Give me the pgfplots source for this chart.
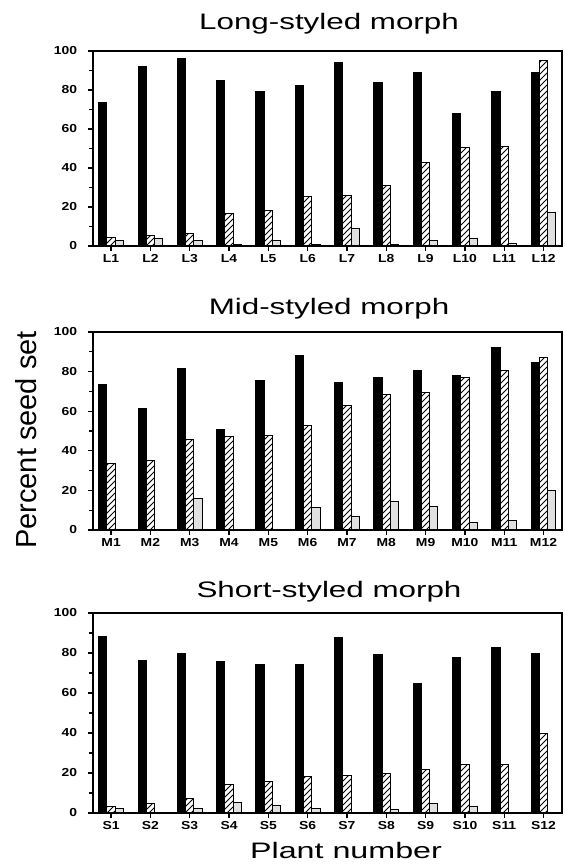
\documentclass[border=0pt]{standalone}
\usepackage{fontspec}
\setmainfont{Liberation Sans}
\usepackage{pgfplots}
\pgfplotsset{compat=1.18}
\usepackage{pgfplotstable}
\usetikzlibrary{patterns}

\pgfplotstableread{
x black hatch dot
0 73.5 4.6 2.7
1 92 5.5 4
2 96 6.5 3
3 85 16.5 1
4 79 18 3
5 82.4 25.6 1
6 94 26 8.9
7 83.6 31 1
8 89 42.7 2.7
9 68 50.7 4
10 79 51 1.5
11 89 95 17
}\longdata

\pgfplotstableread{
x black hatch dot
0 73.6 33.6 0.5
1 61.5 35.3 0.3
2 81.8 45.7 15.8
3 50.8 47 0.3
4 75.6 47.8 0.3
5 87.9 53 11.4
6 74.5 62.7 7
7 77 68.6 14.6
8 80.3 69.2 12
9 78 76.8 3.9
10 92 80.3 4.7
11 84.4 87 19.7
}\middata

\pgfplotstableread{
x black hatch dot
0 88 3.3 2
1 76 4.8 0.3
2 79.8 7.3 2.3
3 75.8 14 5
4 74.3 15.9 3.5
5 74 18.2 2
6 87.6 18.7 0.3
7 79 19.9 1.7
8 64.6 21.5 4.7
9 77.5 24.2 3.2
10 82.6 24 0.3
11 79.6 39.9 0.3
}\shortdata

\pgfplotsset{
 panel/.style={
  scale only axis, width=234.5pt, anchor=south west,
  xmin=-0.46, xmax=11.47, ymin=0, ymax=100,
  ytick={0,20,...,100}, minor ytick={10,30,...,90},
  xtick={0,...,11},
  tick pos=left,
  tick align=outside, major tick length=2.5pt, minor tick length=2pt,
  tick style={black, line width=0.6pt},
  axis line style={line width=0.8pt},
  ybar, bar width=0.21,
  /pgf/number format/assume math mode=true,
  tick label style={font=\fontsize{5.8}{6}\selectfont\bfseries, xscale=1.2},
  yticklabel style={xshift=-1pt},
  xticklabel style={yshift=2pt},
 },
 blackbar/.style={fill=black, draw=black, line width=0.5pt, bar shift=-0.21},
 hatchbar/.style={draw=black, line width=0.5pt, pattern=north east lines, bar shift=0},
 dotbar/.style={draw=black, line width=0.5pt, fill=black!12, bar shift=0.21},
}

\begin{document}
\begin{tikzpicture}
\useasboundingbox (0,0) rectangle (282.5pt,433pt);

\begin{axis}[panel, at={(46.5pt,310pt)}, height=97.5pt,
  xticklabels={L1,L2,L3,L4,L5,L6,L7,L8,L9,L10,L11,L12}]
\addplot[blackbar] table[x=x,y=black] {\longdata};
\addplot[hatchbar] table[x=x,y=hatch] {\longdata};
\addplot[dotbar] table[x=x,y=dot] {\longdata};
\end{axis}

\begin{axis}[panel, at={(46.5pt,168pt)}, height=99pt,
  xticklabels={M1,M2,M3,M4,M5,M6,M7,M8,M9,M10,M11,M12}]
\addplot[blackbar] table[x=x,y=black] {\middata};
\addplot[hatchbar] table[x=x,y=hatch] {\middata};
\addplot[dotbar] table[x=x,y=dot] {\middata};
\end{axis}

\begin{axis}[panel, at={(46.5pt,26.5pt)}, height=100pt,
  xticklabels={S1,S2,S3,S4,S5,S6,S7,S8,S9,S10,S11,S12}]
\addplot[blackbar] table[x=x,y=black] {\shortdata};
\addplot[hatchbar] table[x=x,y=hatch] {\shortdata};
\addplot[dotbar] table[x=x,y=dot] {\shortdata};
\end{axis}

\node[anchor=base, font=\fontsize{11.2}{13}\selectfont, xscale=1.4] at (164.5pt,418.4pt) {Long-styled morph};
\node[anchor=base, font=\fontsize{11.2}{13}\selectfont, xscale=1.4] at (164.5pt,275.5pt) {Mid-styled morph};
\node[anchor=base, font=\fontsize{11.2}{13}\selectfont, xscale=1.4] at (164.5pt,134pt) {Short-styled morph};
\node[anchor=base, font=\fontsize{11.2}{13}\selectfont, xscale=1.44] at (173pt,3.5pt) {Plant number};
\node[rotate=90, font=\fontsize{14.5}{16}\selectfont] at (13pt,213pt) {Percent seed set};
\end{tikzpicture}
\end{document}
